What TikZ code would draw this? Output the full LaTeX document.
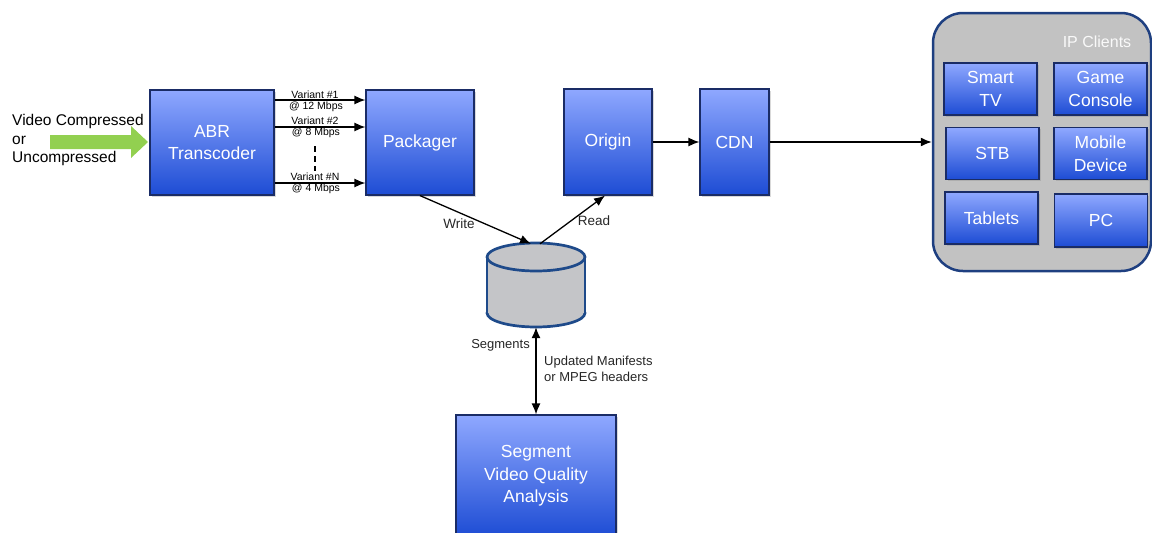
\documentclass[tikz,border=0pt]{standalone}
\usepackage{fontspec}
\setmainfont{Liberation Sans}
\usetikzlibrary{arrows.meta,shadows}
\definecolor{boxtop}{HTML}{8FA8FF}
\definecolor{boxbot}{HTML}{1D4CD4}
\definecolor{boxedge}{HTML}{1A2C66}
\definecolor{dbfill}{HTML}{C4C5C8}
\definecolor{dbedge}{HTML}{1E4A8A}
\definecolor{grpfill}{HTML}{C2C2C2}
\definecolor{grpedge}{HTML}{1E3F80}
\definecolor{feed}{HTML}{92D050}
\definecolor{txtgray}{HTML}{262626}
\begin{document}
\begin{tikzpicture}[x=1pt,y=-1pt,
  bluebox/.style={draw=boxedge, line width=1.2pt, top color=boxtop, bottom color=boxbot,
    text=white, align=center, inner sep=0pt, font=\fontsize{17.5}{22.5}\selectfont,
    drop shadow={opacity=0.3,shadow xshift=1.5pt,shadow yshift=-1.5pt}},
  devbox/.style={bluebox, minimum width=93pt, minimum height=52pt},
  flow/.style={line width=1.3pt, -{Latex[length=11pt,width=9pt]}},
  both/.style={line width=1.3pt, {Latex[length=11pt,width=9pt]}-{Latex[length=11pt,width=9pt]}},
  lbl/.style={text=txtgray, inner sep=0pt, font=\fontsize{13.5}{16}\selectfont},
  small/.style={text=black, inner sep=0pt, font=\fontsize{10.5}{12}\selectfont},
]
\useasboundingbox (0,0) rectangle (1152,533);

% input feed
\node[lbl, anchor=west, align=left, font=\fontsize{15.5}{18.5}\selectfont, text=black] (src) at (12,140)
  {Video Compressed\\or\\Uncompressed};

% processing chain
\node[bluebox, minimum width=124pt, minimum height=105pt] (abr) at (212,142.5) {ABR\\Transcoder};
\node[bluebox, minimum width=108pt, minimum height=105pt] (pack) at (420,142.5) {Packager};
\node[bluebox, minimum width=88pt, minimum height=106pt] (origin) at (608,142) {Origin};
\node[bluebox, minimum width=69pt, minimum height=106pt] (cdn) at (734.5,142) {CDN};
\node[bluebox, minimum width=160pt, minimum height=122pt] (seg) at (536,476) {Segment\\Video Quality\\Analysis};

% green block arrow feeding the transcoder
\fill[feed] (50,135) -- (131,135) -- (131,126) -- (148,142) -- (131,158) -- (131,149) -- (50,149) -- cycle;

% client group
\node[draw=grpedge, line width=2.5pt, fill=grpfill, rounded corners=30pt,
  minimum width=218pt, minimum height=258pt, inner sep=0pt] (clients) at (1042,142) {};
\node[text=white!95!gray, inner sep=0pt, font=\fontsize{16}{19}\selectfont] (cltitle) at (1097,42) {IP Clients};
\node[devbox] (smarttv) at (990.5,89) {Smart\\TV};
\node[devbox] (game) at (1100.5,89) {Game\\Console};
\node[devbox] (stb) at (992.5,153.5) {STB};
\node[devbox] (mobile) at (1100.5,153.5) {Mobile\\Device};
\node[devbox] (tablets) at (991.5,218) {Tablets};
\node[devbox, minimum height=53pt] (pc) at (1101,220.5) {PC};

% storage cylinder
\fill[dbfill, draw=dbedge, line width=2.7pt] (536,313) ellipse [x radius=49, y radius=14];
\fill[dbfill] (487,257) rectangle (585,313);
\draw[dbedge, line width=2.7pt] (487,257) -- (487,313) (585,257) -- (585,313);
\fill[dbfill, draw=dbedge, line width=2.7pt] (536,257) ellipse [x radius=49, y radius=14];
\node[minimum width=98pt, minimum height=84pt, inner sep=0pt] (db) at (536,285) {};

% variant streams
\draw[flow] (abr.east |- 0,100) -- (pack.west |- 0,100);
\draw[flow] (abr.east |- 0,127) -- (pack.west |- 0,127);
\draw[flow] (abr.east |- 0,183) -- (pack.west |- 0,183);
\node[small] (v1a) at (315,95) {Variant \#1};
\node[small] (v1b) at (316,107) {@ 12 Mbps};
\node[small] (v2a) at (315,121) {Variant \#2};
\node[small] (v2b) at (316,133) {@ 8 Mbps};
\node[small] (vna) at (315,177) {Variant \#N};
\node[small] (vnb) at (316,189) {@ 4 Mbps};
\coordinate (dtop) at (315,146);
\coordinate (dbot) at (315,171);
\draw[line width=1.3pt, dash pattern=on 6pt off 4pt] (dtop) -- (dbot);

% storage access
\draw[flow] (pack.south) -- ([xshift=-5pt, yshift=-1pt]db.north);
\draw[flow] ([xshift=4pt, yshift=-1pt]db.north) -- ([xshift=-3pt]origin.south);
\node[lbl] (wlbl) at (459,224) {Write};
\node[lbl] (rlbl) at (594,221) {Read};

% delivery
\draw[flow] (origin.east) -- (cdn.west);
\draw[flow] (cdn.east) -- (clients.west);

% analysis loop
\draw[both] (db.south) -- (seg.north);
\node[lbl, anchor=east, font=\fontsize{13}{16}\selectfont] (seglbl) at (530,345) {Segments};
\node[lbl, anchor=west, align=left, font=\fontsize{13}{16}\selectfont] (updlbl) at (544,369)
  {Updated Manifests\\or MPEG headers};
\end{tikzpicture}
\end{document}
